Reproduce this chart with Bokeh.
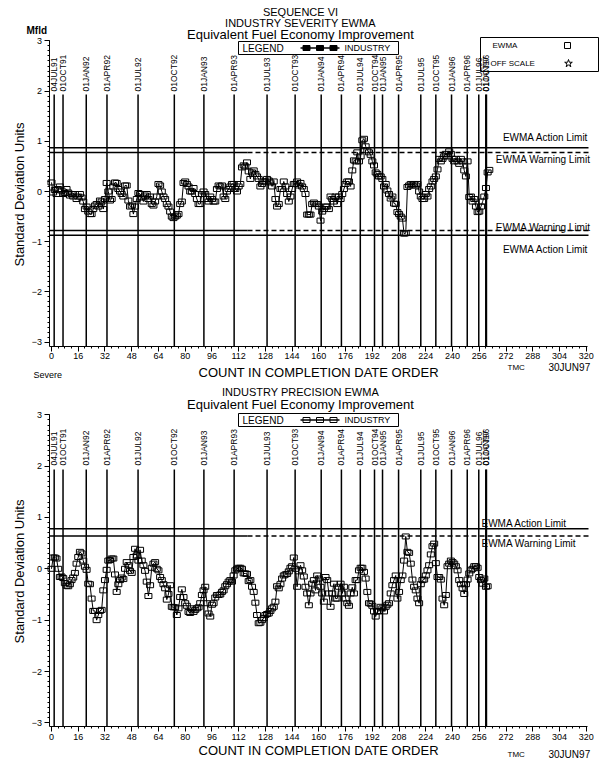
import math
from bokeh.plotting import figure
from bokeh.models import Range1d, FixedTicker, LinearAxis
from bokeh.layouts import column
from bokeh.embed import file_html
from bokeh.resources import INLINE
from bokeh.core.properties import value

# ---------------- data ----------------
severity_ewma = [
    0.18, -0.02, 0.03, -0.05, 0.05, 0.1, 0.02, -0.05, -0.03, 0.05,
    -0.02, -0.08, -0.05, -0.1, -0.05, -0.15, -0.1, -0.05, -0.12, -0.2,
    -0.35, -0.3, -0.4, -0.45, -0.45, -0.35, -0.28, -0.25, -0.3, -0.18,
    -0.2, -0.35, -0.15, 0.17, 0.0, -0.18, -0.15, 0.1, 0.18, 0.17,
    0.05, 0.0, -0.05, -0.1, 0.12, 0.12, -0.18, -0.3, -0.28, -0.45,
    -0.3, -0.15, -0.03, -0.05, -0.12, -0.2, -0.08, -0.05, -0.15, -0.1,
    -0.25, -0.28, -0.2, -0.1, 0.15, 0.12, 0.0, -0.1, -0.15, -0.25,
    -0.3, -0.4, -0.5, -0.53, -0.5, -0.48, -0.45, -0.25, -0.2, 0.17,
    0.2, 0.15, 0.1, 0.0, 0.0, 0.07, -0.05, -0.15, -0.25, -0.25,
    -0.05, 0.0, -0.05, -0.15, -0.2, -0.1, -0.15, -0.2, -0.2, 0.05,
    0.12, 0.1, 0.12, -0.1, -0.15, 0.0, 0.05, 0.1, 0.15, 0.15,
    0.05, 0.0, 0.1, 0.15, 0.48, 0.52, 0.5, 0.58, 0.4, 0.25,
    0.38, 0.42, 0.35, 0.3, 0.25, 0.1, 0.15, 0.2, 0.2, 0.25,
    0.22, 0.18, 0.1, 0.2, -0.15, -0.3, -0.25, 0.05, 0.05, 0.2,
    0.1, -0.05, -0.2, -0.1, 0.05, 0.15, 0.15, 0.2, 0.12, 0.17,
    0.1, 0.05, -0.05, -0.46, -0.46, -0.46, -0.25, -0.22, -0.25, -0.25,
    -0.3, -0.58, -0.4, -0.35, -0.3, -0.3, -0.35, -0.1, -0.15, -0.2,
    -0.1, -0.25, -0.1, -0.15, -0.05, 0.05, 0.15, 0.2, 0.2, 0.1,
    0.42, 0.62, 0.6, 0.78, 0.6, 0.7, 1.02, 1.05, 0.9, 0.82,
    0.78, 0.73, 0.6, 0.52, 0.38, 0.35, 0.3, 0.3, 0.25, 0.1,
    0.15, 0.02, -0.05, -0.14, -0.1, -0.24, -0.25, -0.41, -0.45, -0.5,
    -0.54, -0.84, -0.83, 0.09, 0.12, 0.15, 0.12, 0.15, 0.12, 0.15,
    0.0, -0.1, -0.15, -0.15, -0.05, -0.1, 0.05, 0.1, 0.2, 0.25,
    0.3, 0.44, 0.65, 0.6, 0.65, 0.7, 0.75, 0.7, 0.8, 0.75,
    0.65, 0.6, 0.65, 0.6, 0.55, 0.65, 0.6, 0.42, 0.3, 0.6,
    -0.11, -0.1, -0.2, -0.15, -0.3, -0.41, -0.4, -0.3, -0.2, -0.1,
    0.07, 0.38, 0.43,
]

precision_ewma = [
    0.0, 0.22, 0.22, 0.2, 0.0, -0.16, -0.15, -0.18, -0.28, -0.33,
    -0.34, -0.3, -0.22, -0.17, -0.08, 0.1, 0.23, 0.33, 0.3, 0.16,
    0.04, -0.02, -0.29, -0.3, -0.58, -0.82, -0.82, -1.0, -0.9, -0.82,
    -0.8, -0.42, -0.22, -0.02, 0.16, 0.17, 0.2, 0.2, -0.11, -0.45,
    -0.3, -0.22, -0.17, -0.2, 0.0, 0.13, 0.07, -0.04, -0.08, 0.23,
    0.39, 0.26, 0.16, 0.37, 0.16, 0.07, -0.04, -0.25, -0.53, -0.32,
    0.02, 0.1, 0.13, 0.0, -0.03, -0.16, -0.22, -0.3, -0.38, -0.6,
    -0.49, -0.32, -0.74, -0.75, -0.75, -0.9, -0.77, -0.55, -0.4, -0.55,
    -0.67, -0.72, -0.84, -0.86, -0.77, -0.84, -0.8, -0.77, -0.75, -0.67,
    -0.51, -0.42, -0.35, -0.67, -0.87, -0.93, -0.7, -0.67, -0.56, -0.51,
    -0.51, -0.5, -0.45, -0.42, -0.34, -0.3, -0.25, -0.22, -0.25, -0.13,
    -0.03, 0.0, 0.02, 0.02, 0.0, -0.09, -0.09, -0.1, -0.24, -0.22,
    -0.35, -0.45, -0.66, -0.9, -1.06, -1.05, -1.0, -0.96, -0.9, -0.88,
    -0.87, -0.82, -0.77, -0.74, -0.64, -0.34, -0.38, -0.3, -0.19, -0.13,
    -0.11, -0.1, -0.05, 0.02, 0.05, 0.22, 0.0, -0.35, -0.05, 0.07,
    -0.03, -0.15, -0.35, -0.48, -0.71, -0.48, -0.29, -0.22, -0.42, -0.13,
    -0.19, -0.35, -0.48, -0.64, -0.16, -0.22, -0.48, -0.74, -0.48, -0.29,
    -0.58, -0.58, -0.35, -0.29, -0.48, -0.35, -0.58, -0.67, -0.72, -0.48,
    -0.36, -0.48, -0.22, -0.22, -0.03, 0.02, 0.02, -0.06, -0.19, -0.45,
    -0.67, -0.68, -0.72, -0.83, -0.93, -0.83, -0.82, -0.74, -0.77, -0.83,
    -0.74, -0.7, -0.67, -0.48, -0.32, -0.22, -0.13, -0.58, -0.45, -0.22,
    -0.13, 0.16, 0.63, 0.33, 0.31, 0.1, -0.21, -0.35, -0.42, -0.58,
    -0.67, -0.3, -0.22, -0.21, -0.13, -0.03, 0.07, 0.28, 0.44, 0.49,
    0.11, -0.16, -0.16, -0.21, -0.58, -0.71, -0.51, 0.05, 0.1, 0.16,
    0.13, 0.1, 0.05, -0.03, -0.22, -0.3, -0.38, -0.49, -0.3, -0.21,
    -0.09, -0.03, 0.0, 0.05, 0.05, 0.02, -0.16, -0.22, -0.29, -0.19,
    -0.35, -0.34,
]

date_labels = ["04JUL91", "01OCT91", "01JAN92", "01APR92", "01JUL92", "01OCT92",
               "01JAN93", "01APR93", "01JUL93", "01OCT93", "01JAN94", "01APR94",
               "01JUL94", "01OCT94", "01JAN95", "01APR95", "01JUL95", "01OCT95",
               "01JAN96", "01APR96", "01JUL96", "01OCT96", "01JAN97"]
date_counts = [1.6, 6.9, 20.8, 33.2, 51.8, 73.5, 91.2, 109.3, 129.0, 145.8, 161.4,
               173.5, 184.8, 193.3, 198.1, 207.7, 221.0, 230.0, 239.4, 248.8,
               255.7, 259.9, 260.3]

x_ticks = list(range(0, 321, 16))
x_minor = list(range(0, 321, 4))
y_ticks = [-3, -2, -1, 0, 1, 2, 3]
y_minor = [i / 10 for i in range(-30, 31)]

severity_action, severity_warning = 0.87, 0.775
precision_action, precision_warning = 0.78, 0.64

FONT = "Liberation Sans"

# ---------------- geometry (image pixels -> data) ----------------
X0, XU = 51.0, 1.671
def X(px):
    return (px - X0) / XU

TOP = dict(fig_top=0, height=381, y0=191.0, yu=50.2, axis_y=345.5)
BOT = dict(fig_top=381, height=382, y0=568.3, yu=51.35, axis_y=726.0)


def make_panel(series, g, titles, action, warning, lower_limits, limit_labels,
               legend_y, extra_texts, show_right_box, legend_filled,
               ylabel_y, date_label_bottom, line_top):
    def Y(py):
        return (g["y0"] - py) / g["yu"]

    p = figure(width=600, height=g["height"],
               x_range=Range1d(X(0), X(600)),
               y_range=Range1d(Y(g["fig_top"] + g["height"]), Y(g["fig_top"])),
               x_axis_location=None, y_axis_location=None,
               output_backend="svg", toolbar_location=None,
               min_border_left=0, min_border_right=0,
               min_border_top=0, min_border_bottom=0)
    p.grid.visible = False
    p.outline_line_color = None
    p.background_fill_color = "white"
    p.border_fill_color = "white"

    def txt(x, y, s, size, align="left", angle=0.0, style="normal"):
        p.text(x=[x], y=[y], text=[s], angle=angle, text_align=align,
               text_baseline="middle", text_font=value(FONT),
               text_font_size=size, text_font_style=style, text_color="black")

    # axes (fixed inside the frame)
    xa = LinearAxis(fixed_location=Y(g["axis_y"]),
                    ticker=FixedTicker(ticks=x_ticks, minor_ticks=x_minor),
                    bounds=(X(48.5), X(586.7)))
    ya = LinearAxis(fixed_location=X(48.5),
                    ticker=FixedTicker(ticks=y_ticks, minor_ticks=y_minor),
                    bounds=(Y(g["axis_y"]), 3))
    ya.major_label_overrides = {-1: "\u22121", -2: "\u22122", -3: "\u22123"}
    for ax in (xa, ya):
        ax.axis_line_color = "black"
        ax.major_tick_in = 0
        ax.major_tick_out = 5
        ax.minor_tick_in = 0
        ax.minor_tick_out = 2
        ax.major_tick_line_color = "black"
        ax.minor_tick_line_color = "black"
        ax.major_label_text_font = FONT
        ax.major_label_text_font_size = "9px"
        ax.major_label_text_color = "black"
        ax.major_label_standoff = 2
    p.add_layout(xa, "below")
    p.add_layout(ya, "left")

    txt(X(18.5), Y(ylabel_y), "Standard Deviation Units", "13px", "center",
        math.pi / 2)

    for s, py, fs in titles:
        txt(X(300), Y(py), s, fs, "center")
    for s, px, py, fs, style in extra_texts:
        txt(X(px), Y(py), s, fs, "left", style=style)

    # date reference lines and rotated labels
    n = len(date_counts)
    p.segment(x0=date_counts, y0=[Y(line_top)] * n, x1=date_counts,
              y1=[Y(g["axis_y"])] * n, line_color="black", line_width=1.5)
    p.text(x=date_counts, y=[Y(date_label_bottom)] * n, text=date_labels,
           angle=math.pi / 2, text_align="left", text_baseline="middle",
           text_font=value(FONT), text_font_size="8.5px", text_color="black")

    # EWMA limit lines
    xr0, xsplit, xr1 = X(48.5), X(247), X(588)
    for lv in [action] + ([-action] if lower_limits else []):
        p.line([xr0, xr1], [lv, lv], line_color="black", line_width=1.5)
    for lv in [warning] + ([-warning] if lower_limits else []):
        p.line([xr0, xsplit], [lv, lv], line_color="black", line_width=1.5)
        p.line([xsplit, xr1], [lv, lv], line_color="black", line_width=1.5,
               line_dash="5 3")
    for s, py, px, align in limit_labels:
        txt(X(px), Y(py), s, "10px", align)

    # EWMA series
    xs = list(range(len(series)))
    p.line(xs, series, line_color="black", line_width=1)
    p.rect(xs, series, width=7, height=5, width_units="screen",
           height_units="screen", fill_color=None, line_color="black",
           line_width=1)

    # legend box
    lt, lb = legend_y
    p.quad(left=[X(238)], right=[X(398)], top=[Y(lt)], bottom=[Y(lb)],
           fill_color=None, line_color="black", line_width=1)
    ym = Y((lt + lb) / 2)
    txt(X(242), ym, "LEGEND", "10px")
    p.line([X(300), X(339)], [ym, ym], line_color="black", line_width=1.5)
    p.rect([X(306), X(319.5), X(333)], [ym] * 3, width=7, height=5,
           width_units="screen", height_units="screen",
           fill_color="black" if legend_filled else None, line_color="black")
    txt(X(344), ym, "INDUSTRY", "9px")

    if show_right_box:
        p.quad(left=[X(480)], right=[X(598)], top=[Y(37)], bottom=[Y(71)],
               fill_color=None, line_color="black", line_width=1)
        txt(X(492), Y(45), "EWMA", "8px")
        p.rect([X(567)], [Y(45)], width=6, height=6, width_units="screen",
               height_units="screen", fill_color=None, line_color="black")
        txt(X(490), Y(63), "OFF SCALE", "8px")
        p.scatter([X(568)], [Y(63)], marker="star", size=8, fill_color=None,
                  line_color="black")
    return p


top = make_panel(
    severity_ewma, TOP,
    titles=[("SEQUENCE VI", 11.5, "11px"), ("INDUSTRY SEVERITY EWMA", 22.5, "11px"),
            ("Equivalent Fuel Economy Improvement", 34, "13px")],
    action=severity_action, warning=severity_warning, lower_limits=True,
    limit_labels=[("EWMA Action Limit", 137.3, 588, "right"),
                  ("EWMA Warning Limit", 159.3, 590, "right"),
                  ("EWMA Warning Limit", 226.7, 590, "right"),
                  ("EWMA Action Limit", 249, 588, "right")],
    legend_y=(41, 54),
    extra_texts=[("Mfld", 26, 30, "10px", "bold"),
                 ("COUNT IN COMPLETION DATE ORDER", 198, 371.5, "13px", "normal"),
                 ("TMC", 507, 367, "8px", "normal"),
                 ("30JUN97", 548, 367, "10px", "normal"),
                 ("Severe", 33, 374, "9px", "normal")],
    show_right_box=True, legend_filled=True,
    ylabel_y=194, date_label_bottom=91, line_top=94)

bottom = make_panel(
    precision_ewma, BOT,
    titles=[("INDUSTRY PRECISION EWMA", 391.5, "11px"),
            ("Equivalent Fuel Economy Improvement", 403.5, "13px")],
    action=precision_action, warning=precision_warning, lower_limits=False,
    limit_labels=[("EWMA Action Limit", 522.7, 481, "left"),
                  ("EWMA Warning Limit", 543.3, 481, "left")],
    legend_y=(413, 426),
    extra_texts=[("COUNT IN COMPLETION DATE ORDER", 198, 750, "13px", "normal"),
                 ("TMC", 507, 754, "8px", "normal"),
                 ("30JUN97", 548, 754, "10px", "normal")],
    show_right_box=False, legend_filled=False,
    ylabel_y=571, date_label_bottom=465, line_top=469)

layout = column(top, bottom, spacing=0)
open("out.html", "w").write(file_html(layout, INLINE))
